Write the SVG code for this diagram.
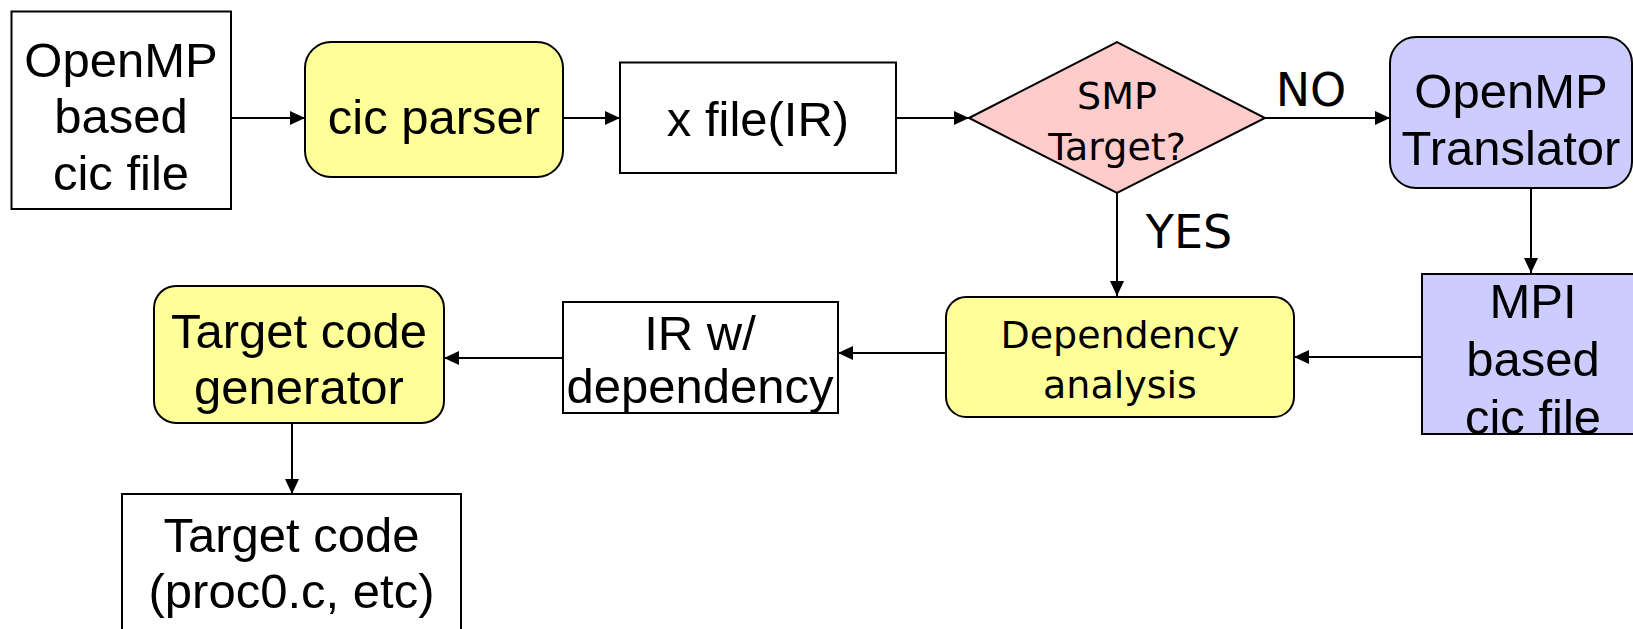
<svg xmlns="http://www.w3.org/2000/svg" width="1633" height="629" viewBox="0 0 1633 629">
  <style>
    .box { stroke: #000; stroke-width: 2; }
    .plain { fill: #FFFFFF; }
    .yellow { fill: #FFFF99; }
    .pink { fill: #FFCCCC; }
    .lilac { fill: #CCCCFF; }
    .t { font-family: "Liberation Sans", Arial, sans-serif; font-size: 49px; fill: #000; text-anchor: middle; }
    .c { font-family: "Comic Sans MS", "DejaVu Sans", sans-serif; font-size: 38px; fill: #000; text-anchor: middle; }
    .lbl { font-family: "Comic Sans MS", "DejaVu Sans", sans-serif; font-size: 46px; fill: #000; text-anchor: middle; }
    .edge { stroke: #000; stroke-width: 2; fill: none; marker-end: url(#head); }
  </style>
  <defs>
    <marker id="head" viewBox="0 0 15 14" refX="15" refY="7" markerWidth="15" markerHeight="14" markerUnits="userSpaceOnUse" orient="auto">
      <path d="M0,0 L15,7 L0,14 Z" fill="#000"/>
    </marker>
    <clipPath id="clipMpi"><rect x="1422" y="274" width="223" height="160"/></clipPath>
    <clipPath id="clipIr"><rect x="563" y="302" width="275" height="111"/></clipPath>
  </defs>

  <rect width="1633" height="629" fill="#FFFFFF"/>

  <!-- connectors -->
  <g id="connectors">
    <line class="edge" x1="231" y1="118" x2="305" y2="118"/>
    <line class="edge" x1="563" y1="118" x2="620" y2="118"/>
    <line class="edge" x1="896" y1="118" x2="969" y2="118"/>
    <line class="edge" x1="1265" y1="118" x2="1390" y2="118"/>
    <line class="edge" x1="1117" y1="193" x2="1117" y2="296"/>
    <line class="edge" x1="1531" y1="188" x2="1531" y2="273"/>
    <line class="edge" x1="1422" y1="357" x2="1294" y2="357"/>
    <line class="edge" x1="946" y1="353" x2="838" y2="353"/>
    <line class="edge" x1="563" y1="358" x2="444" y2="358"/>
    <line class="edge" x1="292" y1="423" x2="292" y2="494"/>
    <text class="lbl" x="1311" y="106">NO</text>
    <text class="lbl" x="1189" y="248">YES</text>
  </g>

  <!-- source file -->
  <g id="openmp-source">
    <rect class="box plain" x="11.5" y="11.5" width="219.5" height="197.5"/>
    <text class="t" x="121" y="77">OpenMP</text>
    <text class="t" x="121" y="133">based</text>
    <text class="t" x="121" y="190">cic file</text>
  </g>

  <g id="cic-parser">
    <rect class="box yellow" x="305" y="42" width="258" height="135" rx="26" ry="26"/>
    <text class="t" x="434" y="134">cic parser</text>
  </g>

  <g id="x-file">
    <rect class="box plain" x="620" y="62.5" width="276" height="110.5"/>
    <text class="t" x="758" y="136">x file(IR)</text>
  </g>

  <g id="smp-decision">
    <polygon class="box pink" points="969,118 1117,42 1265,118 1117,193"/>
    <text class="c" x="1117" y="109">SMP</text>
    <text class="c" x="1117" y="160">Target?</text>
  </g>

  <g id="openmp-translator">
    <rect class="box lilac" x="1390" y="37" width="242" height="151" rx="26" ry="26"/>
    <text class="t" x="1511" y="108">OpenMP</text>
    <text class="t" x="1511" y="165">Translator</text>
  </g>

  <g id="mpi-source">
    <rect class="box lilac" x="1422" y="274" width="223" height="160"/>
    <g clip-path="url(#clipMpi)">
      <text class="t" x="1533" y="318">MPI</text>
      <text class="t" x="1533" y="376">based</text>
      <text class="t" x="1533" y="434">cic file</text>
    </g>
    <rect x="1422" y="274" width="223" height="160" fill="none" stroke="#000" stroke-width="2"/>
  </g>

  <g id="dependency-analysis">
    <rect class="box yellow" x="946" y="297" width="348" height="120" rx="20" ry="20"/>
    <text class="c" x="1120" y="348">Dependency</text>
    <text class="c" x="1120" y="398">analysis</text>
  </g>

  <g id="ir-dependency">
    <rect class="box plain" x="563" y="302" width="275" height="111"/>
    <g clip-path="url(#clipIr)">
      <text class="t" x="700" y="350">IR w/</text>
      <text class="t" x="700" y="403">dependency</text>
    </g>
    <rect x="563" y="302" width="275" height="111" fill="none" stroke="#000" stroke-width="2"/>
  </g>

  <g id="target-generator">
    <rect class="box yellow" x="154" y="286" width="290" height="137" rx="22" ry="22"/>
    <text class="t" x="299" y="348">Target code</text>
    <text class="t" x="299" y="404">generator</text>
  </g>

  <g id="target-code">
    <rect class="box plain" x="122" y="494" width="339" height="150"/>
    <text class="t" x="291.5" y="552">Target code</text>
    <text class="t" x="291.5" y="608">(proc0.c, etc)</text>
  </g>
</svg>
